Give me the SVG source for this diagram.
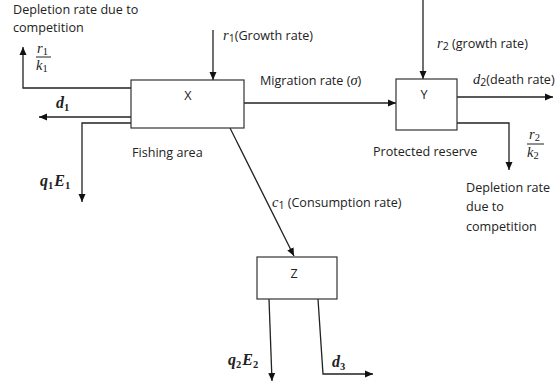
<svg xmlns="http://www.w3.org/2000/svg" width="559" height="390" viewBox="0 0 559 390">
<style>
.t{font-family:"Open Sans","Liberation Sans",sans-serif;font-size:12.6px;fill:#222}
.m{font-family:"Liberation Serif",serif;font-style:italic;font-size:14.5px;fill:#222}
.mb{font-family:"Liberation Serif",serif;font-style:italic;font-weight:bold;font-size:16px;fill:#222}
.s{font-size:10.5px;font-style:normal}
.box{fill:#fff;stroke:#333;stroke-width:1.2}
.c{fill:none;stroke:#222;stroke-width:1.3}
</style>
<defs>
<marker id="ah" markerWidth="8" markerHeight="8" refX="8" refY="4" orient="auto" markerUnits="userSpaceOnUse"><path d="M0,0.5 L8,4 L0,7.5 z" fill="#111"/></marker>
</defs>
<rect width="559" height="390" fill="#fff"/>
<g id="connectors">
<path class="c" d="M213,30 L213,80" marker-end="url(#ah)"/>
<path class="c" d="M423,0 L423,79" marker-end="url(#ah)"/>
<path class="c" d="M244,103 L396,103" marker-end="url(#ah)"/>
<path class="c" d="M457,97 L553,97" marker-end="url(#ah)"/>
<path class="c" d="M457,123 L509,123 L509,170" marker-end="url(#ah)"/>
<path class="c" d="M131,88 L23,88 L23,47" marker-end="url(#ah)"/>
<path class="c" d="M131,117 L39,117" marker-end="url(#ah)"/>
<path class="c" d="M131,123 L82,123 L82,202" marker-end="url(#ah)"/>
<path class="c" d="M230,128 L294,256" marker-end="url(#ah)"/>
<path class="c" d="M269,299 L272,381" marker-end="url(#ah)"/>
<path class="c" d="M318,299 L323,374 L373,374" marker-end="url(#ah)"/>
</g>
<g id="X">
<rect class="box" x="131" y="80" width="113" height="48"/>
<text class="t" x="188" y="100" text-anchor="middle">X</text>
<text class="t" x="132" y="157">Fishing area</text>
</g>
<g id="Y">
<rect class="box" x="396" y="79" width="61" height="51"/>
<text class="t" x="424" y="99" text-anchor="middle">Y</text>
<text class="t" x="373" y="156">Protected reserve</text>
</g>
<g id="Z">
<rect class="box" x="257" y="257" width="80" height="42"/>
<text class="t" x="294" y="278" text-anchor="middle">Z</text>
</g>
<g id="labels">
<text class="t" x="13" y="14">Depletion rate due to</text>
<text class="t" x="13" y="32">competition</text>
<text class="m" x="37" y="53">r<tspan class="s" dy="2">1</tspan></text>
<line x1="36" y1="57" x2="51" y2="57" stroke="#222" stroke-width="1"/>
<text class="m" x="36" y="70">k<tspan class="s" dy="2">1</tspan></text>
<text class="mb" x="56" y="108">d<tspan class="s" dy="2.5">1</tspan></text>
<text class="mb" x="40" y="186">q<tspan class="s" dy="2.5">1</tspan><tspan dx="1" dy="-2.5">E</tspan><tspan class="s" dy="2.5">1</tspan></text>
<text class="t" x="223" y="40"><tspan class="m">r</tspan><tspan class="s" dy="2">1</tspan><tspan dy="-2">(Growth rate)</tspan></text>
<text class="t" x="260" y="85">Migration rate (<tspan class="m">σ</tspan>)</text>
<text class="t" x="437" y="48"><tspan class="m">r</tspan><tspan class="s" dy="2">2</tspan><tspan dy="-2"> (growth rate)</tspan></text>
<text class="t" x="473" y="84"><tspan class="m">d</tspan><tspan class="s" dy="2">2</tspan><tspan dy="-2">(death rate)</tspan></text>
<text class="m" x="529" y="139">r<tspan class="s" dy="2">2</tspan></text>
<line x1="527" y1="144" x2="544" y2="144" stroke="#222" stroke-width="1"/>
<text class="m" x="527" y="157">k<tspan class="s" dy="2">2</tspan></text>
<text class="t" x="466" y="192">Depletion rate</text>
<text class="t" x="466" y="211">due to</text>
<text class="t" x="466" y="231">competition</text>
<text class="t" x="272" y="207"><tspan class="m">c</tspan><tspan class="s" dy="2">1</tspan><tspan dy="-2"> (Consumption rate)</tspan></text>
<text class="mb" x="228" y="365">q<tspan class="s" dy="2.5">2</tspan><tspan dx="1" dy="-2.5">E</tspan><tspan class="s" dy="2.5">2</tspan></text>
<text class="mb" x="332" y="367">d<tspan class="s" dy="2.5">3</tspan></text>
</g>
</svg>
